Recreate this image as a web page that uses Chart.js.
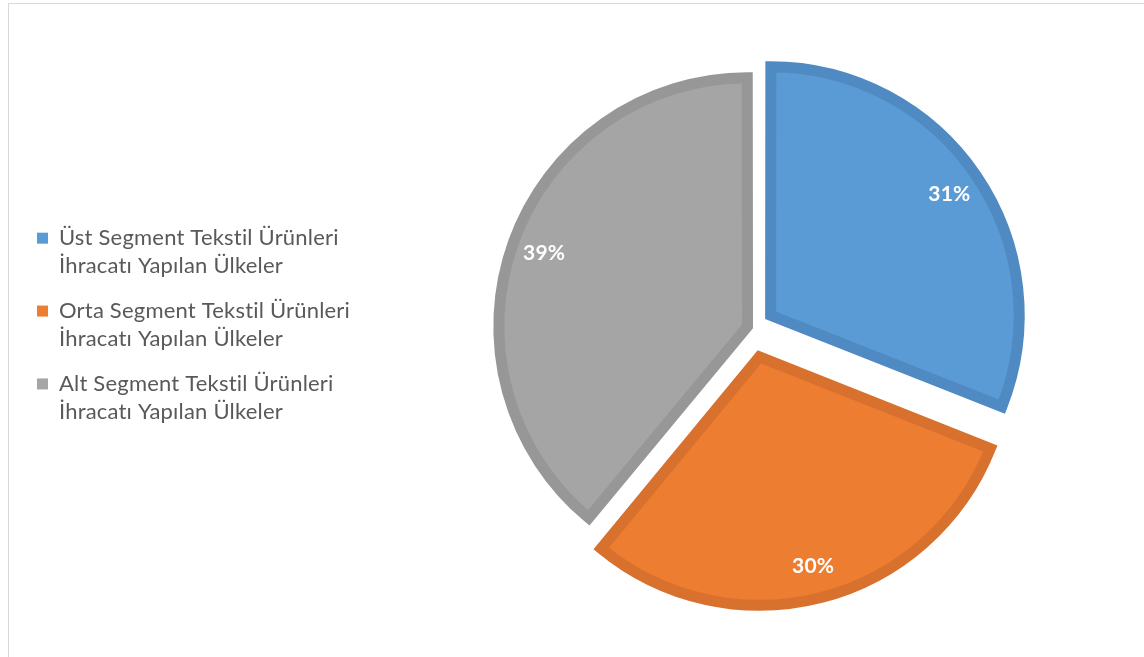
<!DOCTYPE html>
<html><head><meta charset="utf-8">
<script src="https://cdn.jsdelivr.net/npm/chart.js@4"></script>
<style>
html,body{margin:0;padding:0;overflow:hidden;background:#fff;width:1144px;height:657px;}
#frame{position:absolute;left:8px;top:3px;width:2000px;height:2000px;border-left:1px solid #d9d9d9;border-top:1px solid #d9d9d9;}
#c{position:absolute;left:0;top:0;}
</style></head><body>
<div id="frame"></div>
<canvas id="c" width="1484" height="657" style="width:1484px;height:657px"></canvas>
<script>
const categories = [
  ['Üst Segment Tekstil Ürünleri', 'İhracatı Yapılan Ülkeler'],
  ['Orta Segment Tekstil Ürünleri', 'İhracatı Yapılan Ülkeler'],
  ['Alt Segment Tekstil Ürünleri', 'İhracatı Yapılan Ülkeler']
];
const values = [31, 30, 39];

const fillColors = ['#5B9BD5', '#ED7D31', '#A5A5A5'];
const borderColors = ['#4F8AC2', '#D8712E', '#979797'];
const explode = [90, 119, 19];

const total = values.reduce((a, b) => a + b, 0);

const noLigatures = {
  id: 'noLigatures',
  beforeDraw(chart) {
    const ctx = chart.ctx;
    try { ctx.letterSpacing = '0.2px'; } catch (e) {}
  }
};

const pctLabels = {
  id: 'pctLabels',
  afterDatasetsDraw(chart) {
    const ctx = chart.ctx;
    const meta = chart.getDatasetMeta(0);
    ctx.save();
    ctx.fillStyle = '#ffffff';
    ctx.font = 'bold 21px Lato';
    ctx.textAlign = 'center';
    ctx.textBaseline = 'middle';
    meta.data.forEach((el, i) => {
      const p = el.getProps(['x', 'y', 'startAngle', 'endAngle', 'outerRadius'], true);
      const mid = (p.startAngle + p.endAngle) / 2;
      const off = (el.options.offset || 0) / 4;
      const r = off + 0.875 * p.outerRadius;
      const txt = Math.round(values[i] / total * 100) + '%';
      ctx.fillText(txt, p.x + Math.cos(mid) * r, p.y + Math.sin(mid) * r);
    });
    ctx.restore();
  }
};

Chart.defaults.font.family = 'Lato';

new Chart(document.getElementById('c'), {
  type: 'pie',
  data: {
    labels: categories,
    datasets: [{
      data: values,
      backgroundColor: fillColors,
      borderColor: borderColors,
      borderWidth: 11,
      borderJoinStyle: 'miter',
      borderAlign: 'center',
      offset: explode,
      hoverOffset: 0,
      radius: 247
    }]
  },
  options: {
    responsive: false,
    animation: false,
    radius: 247,
    layout: { padding: { left: 20, right: 0, top: 0, bottom: 1 } },
    plugins: {
      tooltip: { enabled: false },
      legend: {
        position: 'chartArea',
        align: 'center',
        labels: {
          boxWidth: 11,
          boxHeight: 11,
          padding: 17,
          color: '#595959',
          font: { size: 22, family: 'Lato', lineHeight: 1.27 },
          generateLabels(chart) {
            return categories.map((t, i) => ({
              text: t,
              fillStyle: fillColors[i],
              strokeStyle: fillColors[i],
              lineWidth: 0,
              hidden: false,
              index: i,
              fontColor: '#595959'
            }));
          }
        }
      }
    }
  },
  plugins: [noLigatures, pctLabels]
});
</script>
</body></html>
